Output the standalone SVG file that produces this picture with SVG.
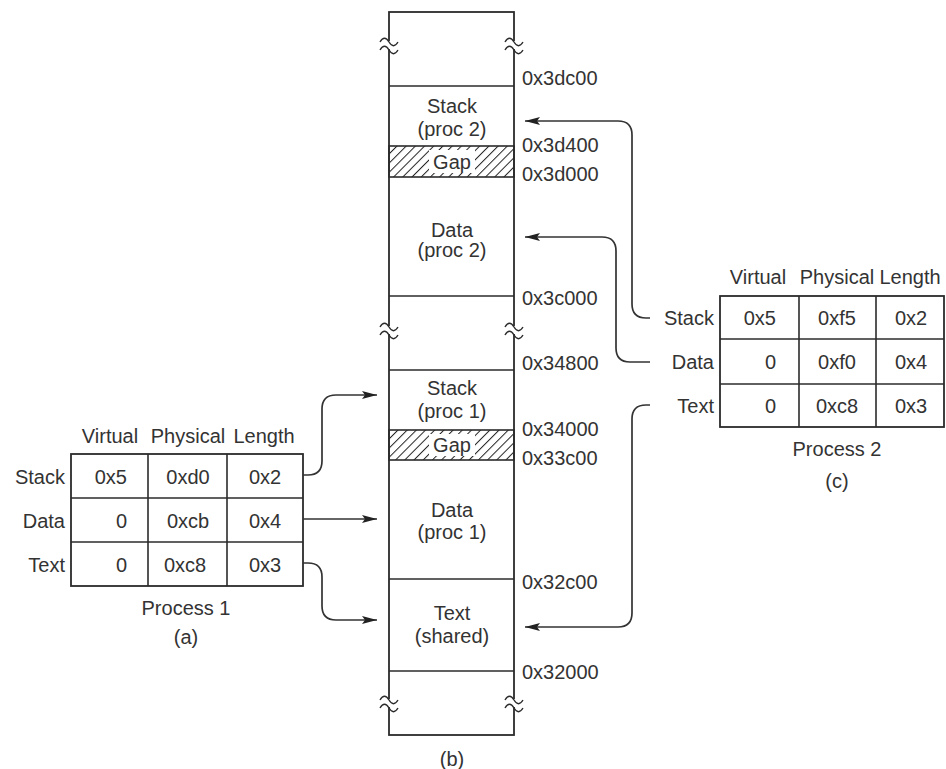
<svg xmlns="http://www.w3.org/2000/svg" width="946" height="769" viewBox="0 0 946 769">
<defs>
<style>
text{font-family:"Liberation Sans",Arial,sans-serif;font-size:20px;fill:#333}
.m{text-anchor:middle}
.e{text-anchor:end}
.ln{stroke:#2b2b2b;stroke-width:1.6;fill:none}
.bx{stroke:#2b2b2b;stroke-width:1.8;fill:#fff}
.cn{stroke:#333;stroke-width:1.7;fill:none}
.brk{stroke:#2b2b2b;stroke-width:1.4;fill:none}
</style>
<marker id="ah" markerUnits="userSpaceOnUse" markerWidth="16" markerHeight="10" refX="15" refY="4.5" orient="auto">
<path d="M0,0.5 L15,4.5 L0,8.5 L3,4.5 z" fill="#222"/>
</marker>
<pattern id="hatch" patternUnits="userSpaceOnUse" width="6.5" height="6.5" patternTransform="rotate(45)">
<line x1="0" y1="0" x2="0" y2="6.5" stroke="#222" stroke-width="2"/>
</pattern>
<g id="brkL">
<rect x="-3" y="-4" width="6" height="8" fill="#fff"/>
<path class="brk" d="M-9,-3 c3,-5 6,-5 9,0 s6,5 9,0"/>
<path class="brk" d="M-9,5 c3,-5 6,-5 9,0 s6,5 9,0"/>
</g>
</defs>
<rect width="946" height="769" fill="#fff"/>

<!-- (b) memory column -->
<g id="memory">
<rect class="bx" x="389" y="12" width="125" height="723"/>
<line class="ln" x1="389" y1="86" x2="514" y2="86"/>
<line class="ln" x1="389" y1="296" x2="514" y2="296"/>
<line class="ln" x1="389" y1="370" x2="514" y2="370"/>
<line class="ln" x1="389" y1="579" x2="514" y2="579"/>
<line class="ln" x1="389" y1="671" x2="514" y2="671"/>
<use href="#brkL" x="389" y="45"/>
<use href="#brkL" x="514" y="45"/>
<use href="#brkL" x="389" y="330"/>
<use href="#brkL" x="514" y="330"/>
<use href="#brkL" x="389" y="703"/>
<use href="#brkL" x="514" y="703"/>
</g>

<g id="stack2">
<text class="m" x="452" y="113">Stack</text>
<text class="m" x="452" y="136">(proc 2)</text>
</g>
<g id="gap2">
<rect x="389" y="146" width="125" height="31" fill="url(#hatch)" stroke="#2b2b2b" stroke-width="1.6"/>
<rect x="429" y="150" width="46" height="23" fill="#fff"/>
<text class="m" x="452" y="169">Gap</text>
</g>
<g id="data2">
<text class="m" x="452" y="237">Data</text>
<text class="m" x="452" y="257">(proc 2)</text>
</g>
<g id="stack1">
<text class="m" x="452" y="395">Stack</text>
<text class="m" x="452" y="418">(proc 1)</text>
</g>
<g id="gap1">
<rect x="389" y="430" width="125" height="30" fill="url(#hatch)" stroke="#2b2b2b" stroke-width="1.6"/>
<rect x="429" y="434" width="46" height="22" fill="#fff"/>
<text class="m" x="452" y="452">Gap</text>
</g>
<g id="data1">
<text class="m" x="452" y="517">Data</text>
<text class="m" x="452" y="539">(proc 1)</text>
</g>
<g id="text-shared">
<text class="m" x="452" y="620">Text</text>
<text class="m" x="452" y="643">(shared)</text>
</g>
<g id="addresses">
<text x="522" y="85">0x3dc00</text>
<text x="522" y="152">0x3d400</text>
<text x="522" y="181">0x3d000</text>
<text x="522" y="305">0x3c000</text>
<text x="522" y="370">0x34800</text>
<text x="522" y="436">0x34000</text>
<text x="522" y="465">0x33c00</text>
<text x="522" y="589">0x32c00</text>
<text x="522" y="679">0x32000</text>
</g>
<text id="label-b" class="m" x="452" y="766">(b)</text>

<!-- (a) Process 1 table -->
<g id="table1">
<text class="m" x="110" y="443">Virtual</text>
<text class="m" x="188" y="443">Physical</text>
<text class="m" x="264" y="443">Length</text>
<rect class="bx" x="71" y="454" width="232" height="132"/>
<line class="ln" x1="71" y1="498" x2="303" y2="498"/>
<line class="ln" x1="71" y1="542" x2="303" y2="542"/>
<line class="ln" x1="148" y1="454" x2="148" y2="586"/>
<line class="ln" x1="227" y1="454" x2="227" y2="586"/>
<text class="e" x="65" y="484">Stack</text>
<text class="e" x="65" y="528">Data</text>
<text class="e" x="65" y="572">Text</text>
<text class="e" x="127" y="484">0x5</text>
<text class="e" x="127" y="528">0</text>
<text class="e" x="127" y="572">0</text>
<text class="m" x="188" y="484">0xd0</text>
<text class="m" x="188" y="528">0xcb</text>
<text class="m" x="185" y="572">0xc8</text>
<text class="m" x="265" y="484">0x2</text>
<text class="m" x="265" y="528">0x4</text>
<text class="m" x="265" y="572">0x3</text>
<text class="m" x="186" y="615">Process 1</text>
<text class="m" x="186" y="644">(a)</text>
</g>

<!-- (c) Process 2 table -->
<g id="table2">
<text class="m" x="758" y="284">Virtual</text>
<text class="m" x="837" y="284">Physical</text>
<text class="m" x="910" y="284">Length</text>
<rect class="bx" x="720" y="296" width="224" height="131"/>
<line class="ln" x1="720" y1="339" x2="944" y2="339"/>
<line class="ln" x1="720" y1="384" x2="944" y2="384"/>
<line class="ln" x1="799" y1="296" x2="799" y2="427"/>
<line class="ln" x1="876" y1="296" x2="876" y2="427"/>
<text class="e" x="714" y="325">Stack</text>
<text class="e" x="714" y="369">Data</text>
<text class="e" x="714" y="413">Text</text>
<text class="e" x="776" y="325">0x5</text>
<text class="e" x="776" y="369">0</text>
<text class="e" x="776" y="413">0</text>
<text class="m" x="837" y="325">0xf5</text>
<text class="m" x="837" y="369">0xf0</text>
<text class="m" x="837" y="413">0xc8</text>
<text class="m" x="911" y="325">0x2</text>
<text class="m" x="911" y="369">0x4</text>
<text class="m" x="911" y="413">0x3</text>
<text class="m" x="837" y="456">Process 2</text>
<text class="m" x="837" y="488">(c)</text>
</g>

<!-- connectors -->
<g id="connectors">
<path class="cn" marker-end="url(#ah)" d="M303,475 H308 Q322,475 322,461 V409 Q322,395 336,395 H377"/>
<path class="cn" marker-end="url(#ah)" d="M303,519 H377"/>
<path class="cn" marker-end="url(#ah)" d="M303,563 H308 Q322,563 322,577 V606 Q322,620 336,620 H377"/>
<path class="cn" marker-end="url(#ah)" d="M650,318 H646 Q632,318 632,304 V135 Q632,121 618,121 H525"/>
<path class="cn" marker-end="url(#ah)" d="M650,362 H630 Q616,362 616,348 V251 Q616,237 602,237 H525"/>
<path class="cn" marker-end="url(#ah)" d="M650,405 H646 Q632,405 632,419 V613 Q632,627 618,627 H525"/>
</g>
</svg>
